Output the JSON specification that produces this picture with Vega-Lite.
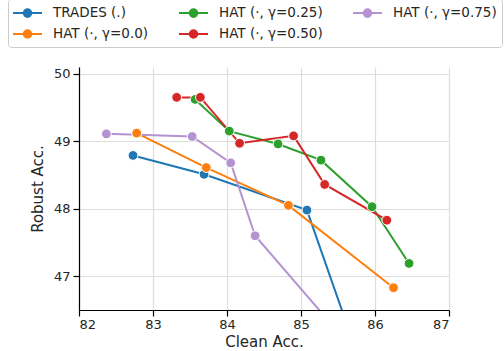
{
  "$schema": "https://vega.github.io/schema/vega-lite/v6.json",
  "width": 370,
  "height": 243,
  "autosize": {"type": "none"},
  "padding": {"left": 79, "top": 67, "right": 55, "bottom": 41},
  "background": "white",
  "config": {
    "font": "DejaVu Sans",
    "view": {"stroke": null},
    "axis": {
      "labelFont": "DejaVu Sans",
      "titleFont": "DejaVu Sans",
      "labelFontSize": 13,
      "titleFontSize": 15,
      "titleFontWeight": "normal",
      "labelColor": "#262626",
      "titleColor": "#262626",
      "domainColor": "#000000",
      "domainWidth": 1.2,
      "tickColor": "#000000",
      "tickSize": 6,
      "tickWidth": 1.2,
      "gridColor": "#dddddd",
      "gridWidth": 1.2,
      "labelPadding": 3
    }
  },
  "data": {
    "values": [
      {"s": "TRADES (.)", "x": 82.73, "y": 48.79},
      {"s": "TRADES (.)", "x": 83.69, "y": 48.51},
      {"s": "TRADES (.)", "x": 85.08, "y": 47.98},
      {"s": "TRADES (.)", "x": 86.03, "y": 45.0},
      {"s": "HAT (·, γ=0.0)", "x": 82.78, "y": 49.12},
      {"s": "HAT (·, γ=0.0)", "x": 83.72, "y": 48.61},
      {"s": "HAT (·, γ=0.0)", "x": 84.83, "y": 48.05},
      {"s": "HAT (·, γ=0.0)", "x": 86.25, "y": 46.83},
      {"s": "HAT (·, γ=0.25)", "x": 83.57, "y": 49.62},
      {"s": "HAT (·, γ=0.25)", "x": 84.03, "y": 49.15},
      {"s": "HAT (·, γ=0.25)", "x": 84.69, "y": 48.96},
      {"s": "HAT (·, γ=0.25)", "x": 85.27, "y": 48.72},
      {"s": "HAT (·, γ=0.25)", "x": 85.96, "y": 48.03},
      {"s": "HAT (·, γ=0.25)", "x": 86.46, "y": 47.19},
      {"s": "HAT (·, γ=0.50)", "x": 83.32, "y": 49.65},
      {"s": "HAT (·, γ=0.50)", "x": 83.64, "y": 49.65},
      {"s": "HAT (·, γ=0.50)", "x": 84.17, "y": 48.97},
      {"s": "HAT (·, γ=0.50)", "x": 84.9, "y": 49.08},
      {"s": "HAT (·, γ=0.50)", "x": 85.32, "y": 48.36},
      {"s": "HAT (·, γ=0.50)", "x": 86.16, "y": 47.83},
      {"s": "HAT (·, γ=0.75)", "x": 82.37, "y": 49.11},
      {"s": "HAT (·, γ=0.75)", "x": 83.53, "y": 49.07},
      {"s": "HAT (·, γ=0.75)", "x": 84.05, "y": 48.68},
      {"s": "HAT (·, γ=0.75)", "x": 84.38, "y": 47.6},
      {"s": "HAT (·, γ=0.75)", "x": 85.64, "y": 46.0}
    ]
  },
  "encoding": {
    "x": {
      "field": "x", "type": "quantitative",
      "scale": {"domain": [82, 87], "nice": false, "zero": false},
      "axis": {"title": "Clean Acc.", "values": [82, 83, 84, 85, 86, 87], "format": "d", "titlePadding": 3, "labelPadding": 2}
    },
    "y": {
      "field": "y", "type": "quantitative",
      "scale": {"domain": [46.5, 50.1], "nice": false, "zero": false},
      "axis": {"title": "Robust Acc.", "values": [47, 48, 49, 50], "format": "d", "titlePadding": 8, "labelPadding": 3}
    },
    "color": {
      "field": "s", "type": "nominal",
      "scale": {
        "domain": ["TRADES (.)", "HAT (·, γ=0.25)", "HAT (·, γ=0.75)", "HAT (·, γ=0.0)", "HAT (·, γ=0.50)"],
        "range": ["#1f77b4", "#2ca02c", "#b394d1", "#ff7f0e", "#d62728"]
      },
      "legend": {
        "title": null,
        "orient": "none",
        "legendX": -71,
        "legendY": -68,
        "direction": "horizontal",
        "columns": 3,
        "gridAlign": "each",
        "columnPadding": 26,
        "rowPadding": 4,
        "padding": 5,
        "strokeColor": "#cccccc",
        "fillColor": "white",
        "cornerRadius": 3,
        "labelFont": "DejaVu Sans",
        "labelFontSize": 13.5,
        "labelColor": "#262626",
        "labelOffset": 22,
        "labelLimit": 300,
        "symbolSize": 256,
        "symbolStrokeWidth": 2,
        "symbolType": "M-1.125,0H2.5M0.2188,0A0.47,0.47,0,1,1,1.1588,0A0.47,0.47,0,1,1,0.2188,0Z",
        "encode": {
          "symbols": {
            "update": {
              "fill": {"scale": "color", "field": "value"},
              "stroke": {"scale": "color", "field": "value"},
              "opacity": {"value": 1}
            }
          }
        }
      }
    }
  },
  "layer": [
    {"mark": {"type": "line", "strokeWidth": 2, "clip": true}},
    {"mark": {"type": "point", "filled": true, "size": 95, "opacity": 1, "stroke": "white", "strokeWidth": 1, "clip": true}}
  ]
}
